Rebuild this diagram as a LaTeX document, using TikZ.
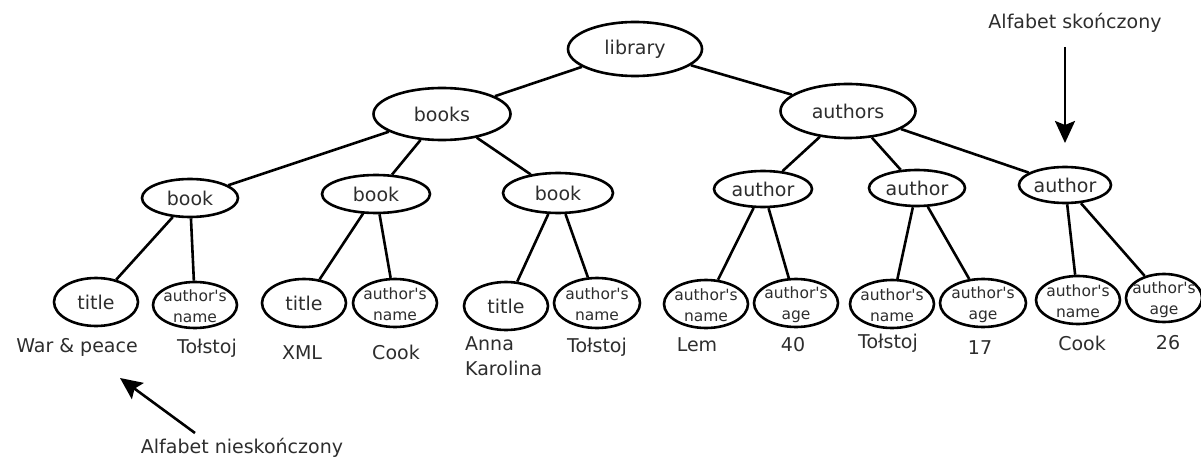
\documentclass[tikz,border=0pt]{standalone}
\usepackage{fontspec}
\setmainfont{DejaVu Sans}
\usetikzlibrary{arrows.meta,shapes.geometric}
\definecolor{txt}{RGB}{45,45,45}
\newcommand{\ap}{\textquotesingle}
\begin{document}
\begin{tikzpicture}[x=1pt,y=-1pt,
  ov/.style n args={2}{draw, ellipse, line width=2.6pt, minimum width=#1pt, minimum height=#2pt, inner sep=0pt},
  big/.style={font=\fontsize{19}{25}\selectfont, text=txt, inner sep=0pt},
  small/.style={font=\fontsize{15.5}{21}\selectfont, align=center, text=txt, inner sep=0pt, yshift=-1.5pt},
  edge/.style={line width=2.6pt},
  arr/.style={line width=2.6pt, -{Stealth[length=22pt,width=20pt,inset=4pt]}}]
\useasboundingbox (0,0) rectangle (1201,457);
% level 0-1
\node[ov={134}{54}, label={[big]center:library}] (lib) at (635,49) {};
\node[ov={137}{52}, label={[big]center:books}] (books) at (442,114) {};
\node[ov={135}{54}, label={[big]center:authors}] (authors) at (848,111) {};
% level 2
\node[ov={96}{38}, label={[big]center:book}] (book1) at (190,198) {};
\node[ov={108}{38}, label={[big]center:book}] (book2) at (376,194) {};
\node[ov={110}{40}, label={[big]center:book}] (book3) at (558,193) {};
\node[ov={98}{36}, label={[big]center:author}] (author1) at (763,189) {};
\node[ov={96}{36}, label={[big]center:author}] (author2) at (917,188) {};
\node[ov={92}{36}, label={[big]center:author}] (author3) at (1065,185) {};
% level 3
\node[ov={84}{48}, label={[big]center:title}] (title1) at (96,302) {};
\node[ov={84}{46}, label={[small]center:author\ap s\\name}] (name1) at (195,305) {};
\node[ov={84}{48}, label={[big]center:title}] (title2) at (304,303) {};
\node[ov={84}{48}, label={[small]center:author\ap s\\name}] (name2) at (395,303) {};
\node[ov={84}{48}, label={[big]center:title}] (title3) at (506,306) {};
\node[ov={86}{50}, label={[small]center:author\ap s\\name}] (name3) at (597,303) {};
\node[ov={84}{48}, label={[small]center:author\ap s\\name}] (name4) at (706,304) {};
\node[ov={84}{48}, label={[small]center:author\ap s\\age}] (age1) at (796,303) {};
\node[ov={84}{48}, label={[small]center:author\ap s\\name}] (name5) at (892,304) {};
\node[ov={86}{48}, label={[small]center:author\ap s\\age}] (age2) at (983,303) {};
\node[ov={84}{48}, label={[small]center:author\ap s\\name}] (name6) at (1078,300) {};
\node[ov={76}{48}, label={[small]center:author\ap s\\age}] (age3) at (1164,298) {};
% edges
\draw[edge] (lib) -- (books);
\draw[edge] (lib) -- (authors);
\draw[edge] (books) -- (book1);
\draw[edge] (books) -- (book2);
\draw[edge] (books) -- (book3);
\draw[edge] (authors) -- (author1);
\draw[edge] (authors) -- (author2);
\draw[edge] (authors) -- (author3);
\draw[edge] (book1) -- (title1);
\draw[edge] (book1) -- (name1);
\draw[edge] (book2) -- (title2);
\draw[edge] (book2) -- (name2);
\draw[edge] (book3) -- (title3);
\draw[edge] (book3) -- (name3);
\draw[edge] (author1) -- (name4);
\draw[edge] (author1) -- (age1);
\draw[edge] (author2) -- (name5);
\draw[edge] (author2) -- (age2);
\draw[edge] (author3) -- (name6);
\draw[edge] (author3) -- (age3);
% values
\node[big] (v1) at (77,347) {War \& peace};
\node[big] (v2) at (207,348) {Tołstoj};
\node[big] (v3) at (302,353) {XML};
\node[big] (v4) at (396,352) {Cook};
\node[big, align=left, anchor=west] (v5) at (465,356) {Anna\\Karolina};
\node[big] (v6) at (597,347) {Tołstoj};
\node[big] (v7) at (697,345) {Lem};
\node[big] (v8) at (793,345) {40};
\node[big] (v9) at (888,343) {Tołstoj};
\node[big] (v10) at (980,348) {17};
\node[big] (v11) at (1082,343) {Cook};
\node[big] (v12) at (1168,343) {26};
% annotations
\node[big] (fin) at (1075,23) {Alfabet skończony};
\node[big] (inf) at (242,448) {Alfabet nieskończony};
\coordinate (a1s) at (1065,47);
\coordinate (a1e) at (1065,143);
\coordinate (a2s) at (195,433);
\coordinate (a2e) at (120,378);
\draw[arr] (a1s) -- (a1e);
\draw[arr] (a2s) -- (a2e);
\end{tikzpicture}
\end{document}
